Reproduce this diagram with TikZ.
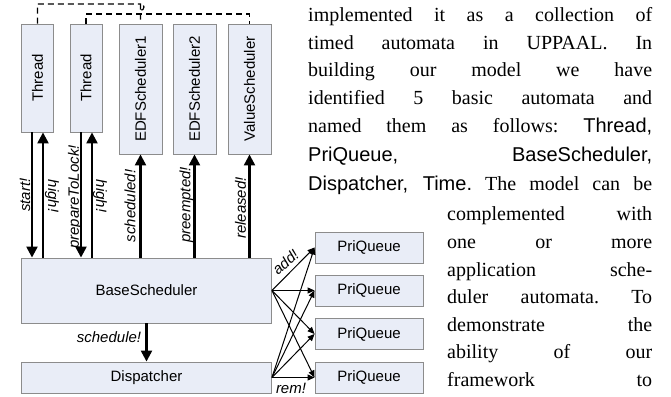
\documentclass[tikz,border=0pt]{standalone}
\usepackage{fontspec}
\setmainfont{Liberation Serif}
\newfontfamily\arialf{Liberation Sans}
\usetikzlibrary{arrows.meta,calc}
\definecolor{boxfill}{RGB}{233,237,247}
\definecolor{boxline}{RGB}{140,140,140}
\begin{document}
\frenchspacing
\begin{tikzpicture}[x=1pt,y=-1pt,
  box/.style={draw=boxline, fill=boxfill, line width=0.9pt, inner sep=0pt, font=\arialf\fontsize{15}{18}\selectfont},
  lbl/.style={font=\arialf\itshape\fontsize{15}{18}\selectfont, inner sep=0pt},
  big/.style={line width=2.3pt, -{Triangle[length=11pt,width=11pt]}},
  thinarr/.style={line width=1pt, -{Triangle[length=7pt,width=6pt]}},
  dashline/.style={dash pattern=on 6pt off 4pt, line width=1.2pt},
  txt/.style={anchor=base west, inner sep=0pt, font=\fontsize{20}{24}\selectfont\frenchspacing}
]
\useasboundingbox (0,0) rectangle (671,396);

% boxes
\node[box, minimum width=32pt, minimum height=108pt] (T1) at (37.5,78) {\rotatebox{90}{Thread}};
\node[box, minimum width=32pt, minimum height=108pt] (T2) at (86,78) {\rotatebox{90}{Thread}};
\node[box, minimum width=43pt, minimum height=130pt] (E1) at (140.5,89) {\rotatebox{90}{EDFScheduler1}};
\node[box, minimum width=43pt, minimum height=130pt] (E2) at (194.5,89) {\rotatebox{90}{EDFScheduler2}};
\node[box, minimum width=43pt, minimum height=130pt] (VS) at (249.5,89) {\rotatebox{90}{ValueScheduler}};
\node[box, minimum width=250pt, minimum height=65pt] (BS) at (146.5,290.5) {BaseScheduler};
\node[box, minimum width=250pt, minimum height=31pt] (DS) at (146.5,377.5) {Dispatcher};
\node[box, minimum width=108pt, minimum height=31pt] (P1) at (369,247.5) {PriQueue};
\node[box, minimum width=108pt, minimum height=31pt] (P2) at (369,290.5) {PriQueue};
\node[box, minimum width=108pt, minimum height=31pt] (P3) at (369,334) {PriQueue};
\node[box, minimum width=108pt, minimum height=31pt] (P4) at (369,377.5) {PriQueue};

% dashed links
\draw[dashline] (T2.north) -- (T2.north |- 0,14) -- (VS.north |- 0,14) -- (VS.north);
\draw[dashline] (T1.north) -- (T1.north |- 0,4) -- (E1.north |- 0,4) -- (E1.north |- 0,10.5)
  arc[start angle=-90, end angle=90, radius=3.5pt] -- (E1.north);

% vertical arrows
\draw[big] ([xshift=-5.5pt]T1.south) -- ([xshift=-5.5pt]T1.south |- BS.north);
\draw[big] ([xshift=5.5pt]T1.south |- BS.north) -- ([xshift=5.5pt]T1.south);
\draw[big] ([xshift=-5pt]T2.south) -- ([xshift=-5pt]T2.south |- BS.north);
\draw[big] ([xshift=6pt]T2.south |- BS.north) -- ([xshift=6pt]T2.south);
\draw[big] (E1.south |- BS.north) -- (E1.south);
\draw[big] (E2.south |- BS.north) -- (E2.south);
\draw[big] (VS.south |- BS.north) -- (VS.south);
\draw[big] (BS.south) -- (DS.north);

% labels
\node[lbl, rotate=90] (lstart) at (25,195) {start!};
\node[lbl, rotate=-90] (lhigh1) at (52,196) {high!};
\node[lbl, rotate=90] (lprep) at (75,197) {prepareToLock!};
\node[lbl, rotate=-90] (lhigh2) at (100,196) {high!};
\node[lbl, rotate=90] (lsched) at (130,206) {scheduled!};
\node[lbl, rotate=90] (lpre) at (186.5,205) {preempted!};
\node[lbl, rotate=90] (lrel) at (240.5,208) {released!};
\node[lbl] (lschedule) at (109,337) {schedule!};

% fan
\foreach \q in {P1,P2,P3,P4}{
  \draw[thinarr] (BS.east) -- (\q.west);
  \draw[thinarr] (DS.east) -- (\q.west);
}
\node[lbl, rotate=42] (ladd) at (285.5,262) {add!};
\node[lbl] (lrem) at (291,388) {rem!};

% text
\node[txt] (L1) at (308,21.7) {\makebox[344pt][s]{implemented it as a collection of}};
\node[txt] (L2) at (308,49.3) {\makebox[344pt][s]{timed automata in UPPAAL. In}};
\node[txt] (L3) at (308,76.7) {\makebox[344pt][s]{building our model we have}};
\node[txt] (L4) at (308,104) {\makebox[344pt][s]{identified 5 basic automata and}};
\node[txt] (L5) at (308,132) {\makebox[344pt][s]{named them as follows: {\arialf Thread,}}};
\node[txt] (L6) at (308,161) {\makebox[344pt][s]{\arialf PriQueue, BaseScheduler,}};
\node[txt] (L7) at (308,190) {\makebox[344pt][s]{{\arialf Dispatcher, Time.} The model can be}};
\node[txt] (L8) at (447,220.5) {\makebox[205pt][s]{complemented with}};
\node[txt] (L9) at (447,248) {\makebox[205pt][s]{one or more}};
\node[txt] (L10) at (447,276) {\makebox[205pt][s]{application sche-}};
\node[txt] (L11) at (447,303.5) {\makebox[205pt][s]{duler automata. To}};
\node[txt] (L12) at (447,331) {\makebox[205pt][s]{demonstrate the}};
\node[txt] (L13) at (447,358.5) {\makebox[205pt][s]{ability of our}};
\node[txt] (L14) at (447,386) {\makebox[205pt][s]{framework to}};
\end{tikzpicture}
\end{document}
